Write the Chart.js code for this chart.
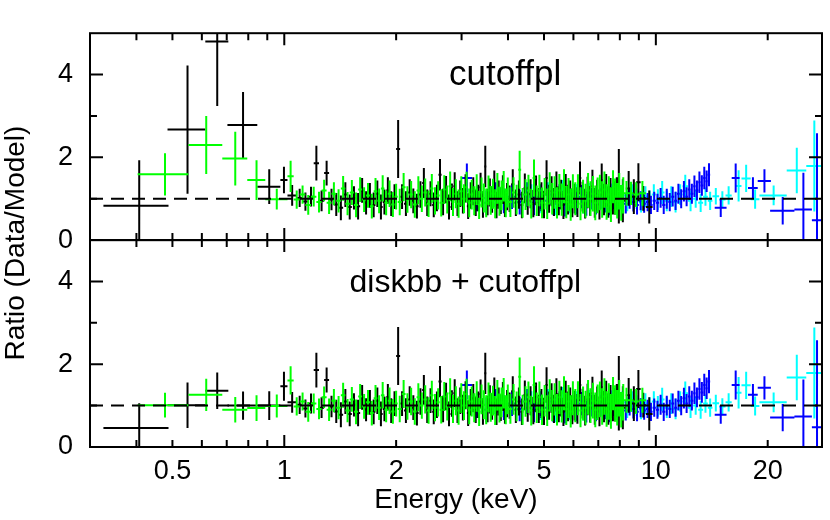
<!DOCTYPE html>
<html><head><meta charset="utf-8">
<script src="https://cdn.jsdelivr.net/npm/chart.js@4/dist/chart.umd.min.js"></script>
<style>html,body{margin:0;padding:0;background:#fff}canvas{display:block}</style>
</head><body>
<canvas id="c" width="830" height="520"></canvas>
<script>
// ---------- axis / tick definitions ----------
const xRange = [0.3, 28];
const yRange = [0, 5];
const xTickLabels = [0.5, 1, 2, 5, 10, 20];
const xMajorTicks = [1, 10];
const xMinorTicks = [0.4, 0.5, 0.6, 0.7, 0.8, 0.9, 2, 3, 4, 5, 6, 7, 8, 9, 20];
const yTickLabels = [0, 2, 4];
const yMinorTicks = [1, 3];
const refRatio = 1;
const panelTitles = ['cutoffpl', 'diskbb + cutoffpl'];

// ---------- low-energy bins (differ between panels) ----------
const lowBlackLo = [0.326, 0.485, 0.613, 0.703, 0.846, 0.976, 1.02];
const lowBlackHi = [0.488, 0.613, 0.707, 0.846, 0.976, 1.02, 1.08];
const topLowBlackR   = [0.83, 2.67, 4.80, 2.78, 1.29, 1.45, 1.08];
const topLowBlackErr = [1.10, 1.55, 1.56, 0.80, 0.42, 0.32, 0.25];
const botLowBlackR   = [0.46, 1.01, 1.36, 1.00, 1.00, 1.47, 1.08];
const botLowBlackErr = [0.60, 0.55, 0.44, 0.34, 0.35, 0.35, 0.25];

const lowGreenLo = [0.403, 0.552, 0.681, 0.795, 0.889, 1.02];
const lowGreenHi = [0.552, 0.681, 0.795, 0.889, 1.02, 1.06];
const topLowGreenR   = [1.59, 2.30, 1.97, 1.45, 0.99, 1.54];
const topLowGreenErr = [0.51, 0.70, 0.65, 0.48, 0.25, 0.38];
const botLowGreenR   = [1.01, 1.26, 0.90, 0.94, 0.99, 1.61];
const botLowGreenErr = [0.30, 0.39, 0.31, 0.31, 0.28, 0.34];

// ---------- dense bins (same in both panels) ----------
const blackEdges = [1.08,1.12,1.16,1.20,1.24,1.28,1.32,1.36,1.40,1.44,1.48,1.52,1.56,1.60,1.64,1.68,1.72,1.76,1.80,1.84,1.88,1.92,1.96,2.00,
2.05,2.10,2.15,2.20,2.25,2.30,2.35,2.40,2.45,2.50,2.55,2.60,2.65,2.70,2.75,2.80,2.85,2.90,2.95,3.00,
3.05,3.10,3.15,3.20,3.25,3.30,3.35,3.40,3.45,3.50,3.55,3.60,3.65,3.70,3.75,3.80,3.85,3.90,3.95,4.00,
4.08,4.16,4.24,4.32,4.40,4.48,4.56,4.64,4.72,4.80,4.88,4.96,5.04,5.12,5.20,5.28,5.36,5.44,5.52,5.60,5.68,5.76,5.84,5.92,6.00,
6.10,6.20,6.30,6.40,6.50,6.60,6.70,6.80,6.90,7.00,7.10,7.20,7.30,7.40,7.50,7.60,7.70,7.80,7.90,8.00,
8.30,8.60,8.85,9.10,9.40,9.80];
const blackRatio = [1.02,0.93,1.05,1.86,0.95,1.62,0.98,0.86,0.78,1.10,0.80,1.02,0.82,1.20,0.90,1.08,0.85,1.12,0.80,0.92,1.20,0.88,1.05,
2.20,1.05,0.88,1.15,0.95,0.82,1.10,1.38,0.90,1.12,
0.85,1.02,1.58,0.92,1.22,0.80,1.05,1.30,0.88,1.12,
0.95,1.25,0.82,1.08,1.18,0.90,1.02,1.28,0.86,1.78,
0.92,1.15,0.98,1.32,0.85,1.10,0.95,1.22,0.88,1.05,
1.00,1.35,0.90,1.10,0.85,1.25,0.95,1.12,0.88,1.20,0.92,1.05,0.86,1.50,1.00,1.18,0.92,1.28,0.95,1.10,0.85,1.22,0.98,1.08,0.90,
1.00,0.92,1.50,1.05,0.88,1.15,0.95,1.30,0.90,1.08,
0.86,1.45,0.98,1.20,0.92,1.10,0.95,1.02,1.12,1.30,
0.95,1.25,1.05,1.40,1.01,0.80];
const blackErr = [0.22,0.22,0.24,0.42,0.25,0.30,0.26,0.28,0.30,0.30,0.30,0.28,0.32,0.30,0.28,0.30,0.30,0.32,0.30,0.30,0.32,0.30,0.30,
0.70,0.30,0.30,0.32,0.30,0.30,0.32,0.36,0.32,0.30,
0.30,0.32,0.38,0.32,0.33,0.30,0.32,0.34,0.30,0.32,
0.31,0.34,0.31,0.32,0.34,0.32,0.32,0.35,0.32,0.50,
0.32,0.34,0.32,0.36,0.32,0.34,0.32,0.35,0.32,0.33,
0.32,0.36,0.32,0.34,0.32,0.36,0.34,0.35,0.33,0.36,0.34,0.35,0.33,0.43,0.34,0.36,0.34,0.38,0.35,0.36,0.34,0.38,0.36,0.36,0.35,
0.36,0.36,0.40,0.36,0.36,0.38,0.36,0.40,0.36,0.38,
0.36,0.40,0.38,0.40,0.38,0.40,0.33,0.40,0.40,0.90,
0.52,0.42,0.42,0.46,0.30,0.40];

const greenEdges = [1.06,1.10,1.14,1.18,1.22,1.26,1.30,1.34,1.38,1.42,1.46,1.50,1.54,1.58,1.62,1.66,1.70,1.74,1.78,1.82,1.86,1.90,1.94,1.98,2.02,
2.07,2.12,2.17,2.22,2.27,2.32,2.37,2.42,2.47,2.52,2.57,2.62,2.67,2.72,2.77,2.82,2.87,2.92,2.97,3.02,
3.07,3.12,3.17,3.22,3.27,3.32,3.37,3.42,3.47,3.52,3.57,3.62,3.67,3.72,3.77,3.82,3.87,3.92,3.97,4.02,
4.10,4.18,4.26,4.34,4.42,4.50,4.58,4.66,4.74,4.82,4.90,4.98,5.06,5.14,5.22,5.30,5.38,5.46,5.54,5.62,5.70,5.78,5.86,5.94,6.02,
6.12,6.22,6.32,6.42,6.52,6.62,6.72,6.82,6.92,7.02,7.12,7.22,7.32,7.42,7.52,7.62,7.72,7.82,7.92,8.02,8.12,8.22,
8.45,8.70,9.00,9.40];
const greenRatio = [0.98,1.10,0.85,1.05,0.92,1.20,0.90,1.12,0.95,1.25,0.88,1.15,0.85,1.22,0.98,1.08,0.82,1.18,0.95,1.25,0.90,1.12,0.86,1.05,
0.92,1.28,0.98,1.10,0.86,1.20,1.00,1.15,0.88,1.25,
0.95,1.08,0.90,1.22,0.98,1.30,0.92,1.12,0.88,1.18,
1.00,1.28,0.90,1.10,0.95,1.22,0.85,1.15,1.02,0.90,
1.20,0.96,1.12,0.88,1.25,0.94,1.08,1.30,0.90,1.15,
0.92,1.15,0.98,1.70,0.90,1.10,1.20,0.88,1.50,0.95,1.20,0.90,1.12,0.88,1.25,1.00,1.15,0.90,1.20,0.98,1.30,0.92,1.10,0.86,1.18,
1.00,1.18,0.88,1.05,0.95,1.20,1.00,1.12,0.90,1.08,1.15,0.98,1.22,0.92,1.10,0.86,1.29,1.05,0.95,1.18,0.90,1.08,
1.13,1.13,1.10,1.13];
const greenErr = [0.22,0.22,0.24,0.24,0.25,0.26,0.27,0.28,0.28,0.30,0.28,0.30,0.30,0.30,0.30,0.30,0.30,0.32,0.30,0.32,0.30,0.32,0.30,0.31,
0.32,0.34,0.32,0.33,0.32,0.34,0.32,0.34,0.32,0.35,
0.33,0.34,0.33,0.35,0.34,0.36,0.34,0.35,0.34,0.36,
0.35,0.37,0.35,0.36,0.35,0.37,0.34,0.36,0.35,0.35,
0.36,0.35,0.36,0.35,0.37,0.35,0.36,0.37,0.35,0.36,
0.36,0.37,0.36,0.46,0.36,0.37,0.38,0.36,0.45,0.37,0.38,0.37,0.38,0.37,0.39,0.38,0.39,0.38,0.40,0.39,0.41,0.39,0.40,0.39,0.41,
0.40,0.41,0.40,0.41,0.41,0.42,0.42,0.43,0.42,0.43,0.43,0.44,0.44,0.43,0.44,0.42,0.40,0.44,0.43,0.44,0.43,0.44,
0.30,0.28,0.30,0.30];

const blueEdges = [3.0,3.2,3.4,3.6,3.8,4.0,4.2,4.4,4.6,4.8,
5.0,5.2,5.4,5.6,5.8,6.0,6.2,6.4,6.6,6.8,
7.0,7.2,7.4,7.6,7.8,8.0,8.2,8.4,8.6,8.8,
9.0,9.2,9.4,9.6,9.8,10.0,10.2,10.4,10.6,10.8,
11.0,11.2,11.4,11.6,11.8,12.0,12.2,12.4,12.6,12.8,
13.0,13.2,13.4,13.6,13.8,14.0];
const blueRatio = [1.50,1.00,0.90,1.10,0.95,1.05,0.92,1.10,0.90,1.05,
0.95,0.88,1.05,0.85,0.95,0.90,1.05,0.85,1.00,0.88,
1.00,0.92,0.85,1.00,0.90,0.95,0.88,1.00,0.92,0.85,
0.95,0.88,0.92,0.85,0.95,0.90,1.02,0.85,1.00,0.92,
1.05,0.95,1.12,1.00,1.18,1.05,1.22,1.12,1.30,1.20,
1.40,1.32,1.50,1.42,1.58];
const blueErr = [0.35,0.30,0.30,0.30,0.30,0.30,0.30,0.30,0.30,0.30,
0.30,0.28,0.30,0.28,0.28,0.28,0.28,0.26,0.26,0.26,
0.26,0.25,0.25,0.25,0.24,0.24,0.24,0.24,0.23,0.23,
0.23,0.22,0.22,0.22,0.22,0.22,0.24,0.22,0.24,0.22,
0.24,0.22,0.24,0.23,0.25,0.23,0.25,0.24,0.26,0.24,
0.26,0.25,0.27,0.26,0.28];
const blueHiLo = [14.4, 16.0, 17.7, 18.8, 20.3, 23.6, 26.3];
const blueHiHi = [15.5, 16.8, 18.8, 20.4, 23.6, 26.3, 28.0];
const blueHiRatio = [0.78, 1.50, 1.26, 1.43, 0.71, 0.74, 0.48];
const blueHiErr   = [0.22, 0.35, 0.26, 0.28, 0.33, 0.89, 2.10];

const cyanEdges = [4.5,4.75,5.0,5.25,5.5,5.75,6.0,6.25,6.5,6.75,
7.0,7.25,7.5,7.75,8.0,8.25,8.5,8.75,9.0,9.25,
9.5,9.75,10.0,10.25,10.55,10.85,11.15,11.45,11.8,12.2,
12.6,13.0,13.4,13.8,14.2,14.8,15.4,16.0];
const cyanRatio = [1.05,0.95,1.10,0.90,1.15,0.95,1.05,0.92,1.10,0.98,
1.05,0.95,1.10,1.00,1.08,0.95,1.10,1.00,0.92,1.05,
0.95,1.10,0.98,1.15,0.95,1.05,0.92,1.10,1.30,0.95,
1.00,0.90,1.05,0.95,1.06,0.98,1.08];
const cyanErr = [0.30,0.30,0.30,0.30,0.30,0.30,0.30,0.28,0.28,0.28,
0.28,0.27,0.27,0.26,0.26,0.25,0.25,0.25,0.25,0.25,
0.25,0.25,0.25,0.28,0.25,0.25,0.25,0.25,0.28,0.25,
0.22,0.22,0.22,0.22,0.20,0.20,0.22];
const cyanHiLo = [16.4, 17.0, 18.0, 19.0, 22.5, 25.4];
const cyanHiHi = [17.0, 18.0, 19.0, 22.5, 25.4, 28.0];
const cyanHiRatio = [1.31, 1.49, 0.99, 1.08, 1.68, 1.79];
const cyanHiErr   = [0.38, 0.33, 0.23, 0.24, 0.55, 1.10];

const colors = {black: '#000000', green: '#00ff00', blue: '#0000ff', cyan: '#00ffff'};

// ---------- build error-bar polylines ----------
function crosses(lo, hi, r, err) {
  const pts = [];
  for (let i = 0; i < r.length; i++) {
    const c = (lo[i] + hi[i]) / 2;
    pts.push({x: lo[i], y: r[i]}, {x: hi[i], y: r[i]}, {x: c, y: null},
             {x: c, y: r[i] - err[i]}, {x: c, y: r[i] + err[i]}, {x: c, y: null});
  }
  return pts;
}
const lo = e => e.slice(0, -1), hi = e => e.slice(1);

function ds(data, color, axis, order) {
  return {data, borderColor: color, backgroundColor: color, borderWidth: 2, pointRadius: 0,
    pointHoverRadius: 0, fill: false, tension: 0, spanGaps: false, clip: false,
    yAxisID: axis, xAxisID: 'x', order, borderCapStyle: 'butt'};
}
function panel(axis, lowBlackR, lowBlackErr, lowGreenR, lowGreenErr) {
  const ref = ds([{x: xRange[0], y: refRatio}, {x: xRange[1], y: refRatio}], colors.black, axis, 0);
  ref.borderDash = [13, 8];
  return [
    ref,
    ds(crosses(lowGreenLo, lowGreenHi, lowGreenR, lowGreenErr)
       .concat(crosses(lo(greenEdges), hi(greenEdges), greenRatio, greenErr)), colors.green, axis, 1),
    ds(crosses(lowBlackLo, lowBlackHi, lowBlackR, lowBlackErr)
       .concat(crosses(lo(blackEdges), hi(blackEdges), blackRatio, blackErr)), colors.black, axis, 2),
    ds(crosses(lo(blueEdges), hi(blueEdges), blueRatio, blueErr)
       .concat(crosses(blueHiLo, blueHiHi, blueHiRatio, blueHiErr)), colors.blue, axis, 3),
    ds(crosses(lo(cyanEdges), hi(cyanEdges), cyanRatio, cyanErr)
       .concat(crosses(cyanHiLo, cyanHiHi, cyanHiRatio, cyanHiErr)), colors.cyan, axis, 4)
  ];
}

const FONT = "'Liberation Sans', Arial, Helvetica, sans-serif";

const framePlugin = {
  id: 'frame',
  beforeDatasetDraw(chart, args) {
    const xs = chart.scales[args.meta.xAxisID], ys = chart.scales[args.meta.yAxisID];
    const ctx = chart.ctx;
    ctx.save();
    ctx.beginPath();
    ctx.rect(xs.left, ys.top, xs.right - xs.left, ys.bottom - ys.top);
    ctx.clip();
  },
  afterDatasetDraw(chart) { chart.ctx.restore(); },
  afterDraw(chart) {
    const ctx = chart.ctx, xs = chart.scales.x;
    ctx.save();
    ctx.strokeStyle = '#000';
    ctx.lineWidth = 2;
    ctx.lineCap = 'butt';
    const panels = [chart.scales.yTop, chart.scales.yBot];
    panels.forEach((ys, k) => {
      ctx.strokeRect(xs.left, ys.top, xs.right - xs.left, ys.bottom - ys.top);
      ctx.beginPath();
      const xt = (v, L) => {
        const p = xs.getPixelForValue(v);
        ctx.moveTo(p, ys.bottom); ctx.lineTo(p, ys.bottom - L);
        ctx.moveTo(p, ys.top); ctx.lineTo(p, ys.top + L);
      };
      xMajorTicks.forEach(v => xt(v, 12));
      xMinorTicks.forEach(v => xt(v, 7));
      const yt = (v, L) => {
        const p = ys.getPixelForValue(v);
        ctx.moveTo(xs.left, p); ctx.lineTo(xs.left + L, p);
        ctx.moveTo(xs.right, p); ctx.lineTo(xs.right - L, p);
      };
      yTickLabels.forEach(v => yt(v, 13));
      yMinorTicks.forEach(v => yt(v, 7));
      ctx.stroke();
      // panel title
      ctx.fillStyle = '#000';
      ctx.font = (k === 0 ? '35px ' : '32px ') + FONT;
      ctx.textAlign = 'center';
      ctx.textBaseline = 'alphabetic';
      const tx = k === 0 ? xs.getPixelForValue(3.93) : xs.getPixelForValue(3.07);
      ctx.fillText(panelTitles[k], tx, ys.getPixelForValue(3.75));
    });
    // shared y title
    ctx.font = '28px ' + FONT;
    ctx.textAlign = 'center';
    ctx.textBaseline = 'middle';
    ctx.translate(16, (chart.scales.yTop.top + chart.scales.yBot.bottom) / 2 + 3);
    ctx.rotate(-Math.PI / 2);
    ctx.fillText('Ratio (Data/Model)', 0, 0);
    ctx.restore();
  }
};

const yAxis = () => ({
  type: 'linear', position: 'left', stack: 'panels', stackWeight: 1,
  min: yRange[0], max: yRange[1],
  grid: {display: false, drawTicks: false}, border: {display: false},
  afterBuildTicks: s => { s.ticks = yTickLabels.map(v => ({value: v})); },
  afterFit: s => { s.width = 90; },
  ticks: {color: '#000', padding: 17, font: {family: FONT, size: 27}, autoSkip: false}
});

new Chart(document.getElementById('c'), {
  type: 'line',
  data: {datasets: panel('yTop', topLowBlackR, topLowBlackErr, topLowGreenR, topLowGreenErr)
                   .concat(panel('yBot', botLowBlackR, botLowBlackErr, botLowGreenR, botLowGreenErr))},
  options: {
    responsive: false, animation: false, devicePixelRatio: 1,
    layout: {padding: {left: 0, right: 8, top: 11, bottom: 0}},
    plugins: {legend: {display: false}, tooltip: {enabled: false}},
    events: [],
    scales: {
      x: {
        type: 'logarithmic', position: 'bottom', min: xRange[0], max: xRange[1],
        grid: {display: false, drawTicks: false}, border: {display: false},
        afterBuildTicks: s => { s.ticks = xTickLabels.map(v => ({value: v})); },
        afterFit: s => { s.height = 73; },
        ticks: {color: '#000', padding: 8, maxRotation: 0, autoSkip: false,
                font: {family: FONT, size: 27}, callback: v => String(v)},
        title: {display: true, text: 'Energy (keV)', color: '#000',
                font: {family: FONT, size: 28}, padding: {top: 0, bottom: 3}}
      },
      yBot: yAxis(),
      yTop: yAxis()
    }
  },
  plugins: [framePlugin]
});
</script>
</body></html>
